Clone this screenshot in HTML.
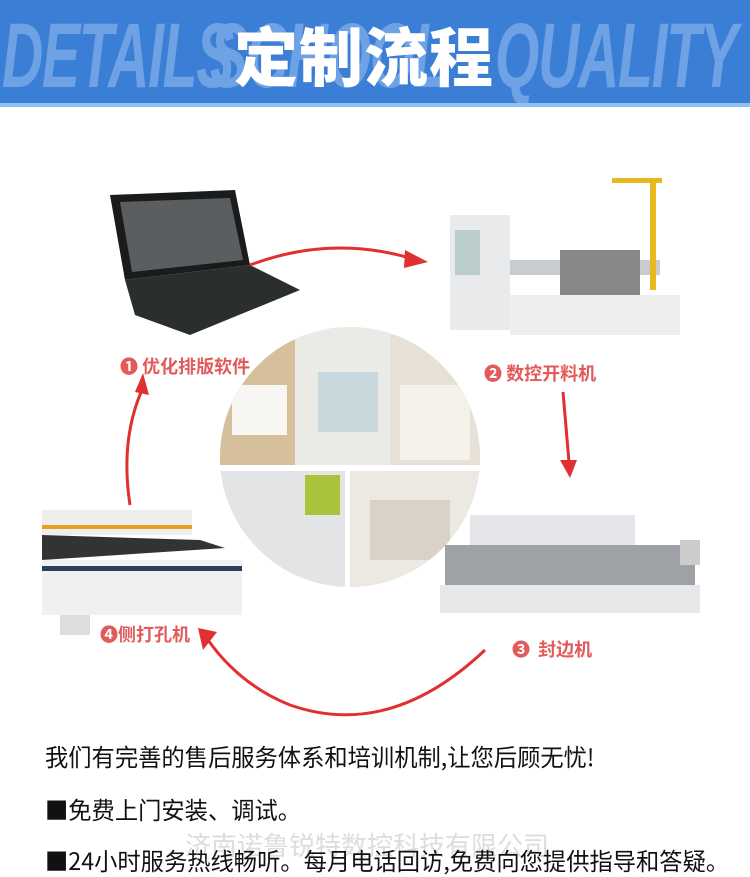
<!DOCTYPE html>
<html><head><meta charset="utf-8"><style>
body{margin:0;width:750px;height:873px;background:#fff;position:relative;overflow:hidden;font-family:"Liberation Sans","Noto Sans CJK SC",sans-serif}
.hdr{position:absolute;left:0;top:0;width:750px;height:103px;background:#3a7fd5;overflow:hidden}
.bg{position:absolute;top:4px;font-family:"Liberation Sans",sans-serif;font-weight:bold;font-style:italic;font-size:92px;color:#6fa2e4;letter-spacing:-2px;transform:scaleX(0.62);transform-origin:left}
.ttl{position:absolute;left:234px;top:8px;font-size:64px;font-weight:900;color:#fff;letter-spacing:1px;font-family:"Noto Sans CJK SC",sans-serif}
.line{position:absolute;left:0;top:103px;width:750px;height:4px;background:#8cc0f0}
.lbl{position:absolute;color:#e25a5a;font-size:18px;font-weight:bold;font-family:"Noto Sans CJK SC",sans-serif}
.t{position:absolute;left:45px;font-size:24px;color:#111;font-family:"Noto Sans CJK SC",sans-serif;transform:scaleX(0.97);transform-origin:left;white-space:nowrap}
</style></head><body>
<div class="hdr">
<div class="bg" style="left:2px">DETAILS</div>
<div class="bg" style="left:210px">SCHOOL</div>
<div class="bg" style="left:495px">QUALITY</div>
<div class="ttl">定制流程</div>
</div>
<div class="line"></div>
<svg width="750" height="873" style="position:absolute;left:0;top:0">
<defs><clipPath id="c"><circle cx="350" cy="457" r="130"/></clipPath></defs>
<g clip-path="url(#c)">
<rect x="215" y="325" width="270" height="265" fill="#f0ece6"/>
<rect x="215" y="325" width="80" height="140" fill="#d6c09c"/>
<rect x="295" y="325" width="95" height="140" fill="#eceae6"/>
<rect x="318" y="372" width="60" height="60" fill="#c8d8dc"/>
<rect x="390" y="325" width="95" height="140" fill="#e6e0d6"/>
<rect x="232" y="385" width="55" height="50" fill="#f8f6f2"/>
<rect x="400" y="385" width="70" height="75" fill="#f4f0ea"/>
<rect x="215" y="465" width="270" height="6" fill="#fff"/>
<rect x="215" y="471" width="130" height="125" fill="#e2e4e6"/>
<rect x="305" y="475" width="35" height="40" fill="#a9c43a"/>
<rect x="350" y="471" width="135" height="125" fill="#ece8e2"/>
<rect x="345" y="471" width="5" height="125" fill="#fff"/>
<rect x="370" y="500" width="80" height="60" fill="#d8d2c8"/>
</g>
<polygon points="110,195 235,190 250,265 125,280" fill="#1b1b1b"/>
<polygon points="120,202 230,198 243,260 132,272" fill="#5a5e60"/>
<polygon points="125,280 250,265 300,290 190,335 135,315" fill="#2a2f2e"/>
<rect x="450" y="215" width="60" height="115" fill="#e8eaec"/>
<rect x="455" y="230" width="25" height="45" fill="#bcc"/>
<rect x="510" y="260" width="150" height="15" fill="#c8ccd0"/>
<rect x="510" y="295" width="170" height="40" fill="#eeeeee"/>
<rect x="560" y="250" width="80" height="45" fill="#888"/>
<rect x="650" y="180" width="6" height="110" fill="#e8b820"/>
<rect x="612" y="178" width="50" height="5" fill="#e8b820"/>
<rect x="470" y="515" width="165" height="30" fill="#e4e6ea"/>
<rect x="445" y="545" width="250" height="50" fill="#9ea2a6"/>
<rect x="440" y="585" width="260" height="28" fill="#e8e8ea"/>
<rect x="680" y="540" width="20" height="25" fill="#ccc"/>
<rect x="42" y="510" width="150" height="25" fill="#eee"/>
<rect x="42" y="525" width="150" height="4" fill="#e8a020"/>
<polygon points="42,535 200,540 225,548 42,560" fill="#333"/>
<rect x="42" y="560" width="200" height="55" fill="#f0f0f2"/>
<rect x="42" y="566" width="200" height="5" fill="#2c3e5e"/>
<rect x="60" y="615" width="30" height="20" fill="#ddd"/>
<g fill="none" stroke="#e03030" stroke-width="3">
<path d="M250,265 Q330,235 410,258"/>
<path d="M563,392 L569,462"/>
<path d="M485,650 Q390,740 290,705 Q240,685 208,640"/>
<path d="M130,505 Q120,440 142,390"/>
</g>
<g fill="#e03030">
<polygon points="405,250 428,262 404,268"/>
<polygon points="560,460 577,460 570,478"/>
<polygon points="198,628 217,632 203,650"/>
<polygon points="135,392 149,395 143,373"/>
</g>
</svg>
<div class="lbl" style="left:120px;top:353px">❶ 优化排版软件</div>
<div class="lbl" style="left:484px;top:360px">❷ 数控开料机</div>
<div class="lbl" style="left:512px;top:636px">❸&nbsp;&nbsp;封边机</div>
<div class="lbl" style="left:100px;top:621px">❹侧打孔机</div>
<div class="t" style="top:738px">我们有完善的售后服务体系和培训机制,让您后顾无忧!</div>
<div class="t" style="top:791px">■免费上门安装、调试。</div>
<div style="position:absolute;left:185px;top:826px;font-size:26px;color:#ddd;font-family:'Noto Sans CJK SC',sans-serif">济南诺鲁锐特数控科技有限公司</div>
<div class="t" style="top:842px">■24小时服务热线畅听。每月电话回访,免费向您提供指导和答疑。</div>
</body></html>
